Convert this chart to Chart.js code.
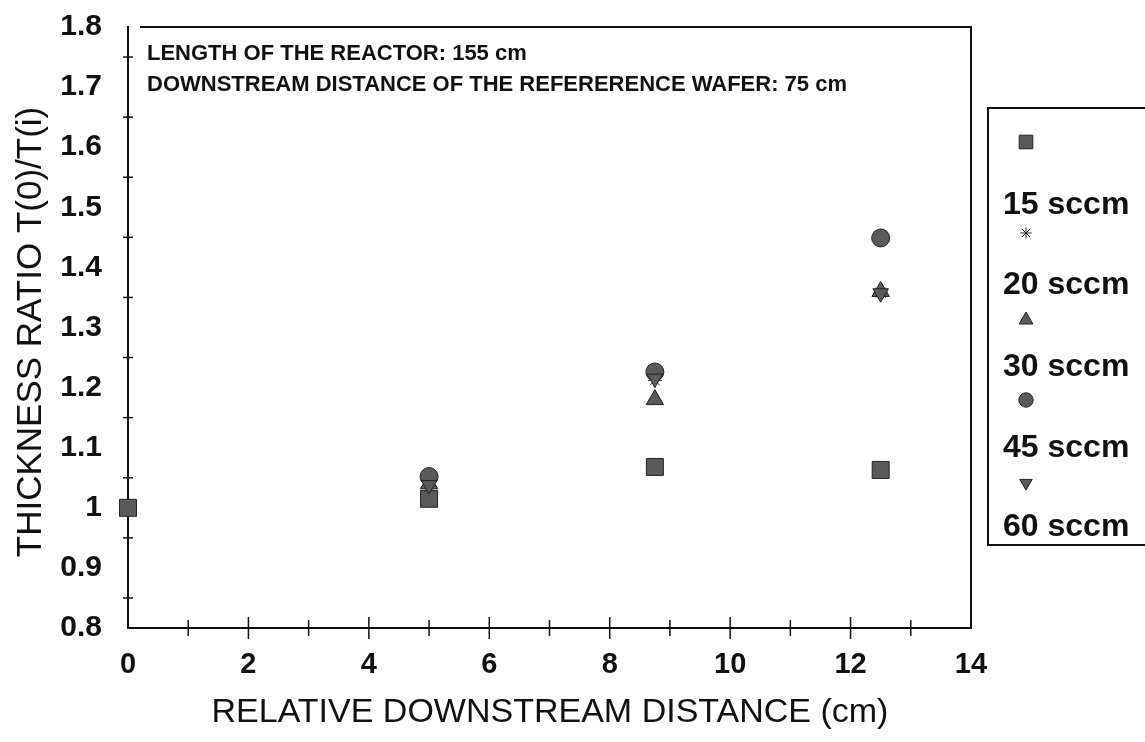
<!DOCTYPE html>
<html>
<head>
<meta charset="utf-8">
<script src="https://cdn.jsdelivr.net/npm/chart.js@4/dist/chart.umd.min.js"></script>
<style>
  html, body { margin: 0; padding: 0; background: #fff; }
  #wrap { width: 1145px; height: 742px; }
</style>
</head>
<body>
<div id="wrap"><canvas id="chart" width="1145" height="742"></canvas></div>
<script>
const distances = [0, 5, 8.75, 12.5];
const sccm15 = [1.0, 1.015, 1.068, 1.063];
const sccm20 = [null, 1.035, 1.212, 1.358];
const sccm30 = [null, 1.04, 1.18, 1.36];
const sccm45 = [null, 1.052, 1.226, 1.449];
const sccm60 = [null, 1.038, 1.215, 1.357];
const seriesLabels = ["15 sccm", "20 sccm", "30 sccm", "45 sccm", "60 sccm"];
const xTickLabels = ["0", "2", "4", "6", "8", "10", "12", "14"];
const yTickLabels = ["0.8", "0.9", "1", "1.1", "1.2", "1.3", "1.4", "1.5", "1.6", "1.7", "1.8"];
const notes = [
  "LENGTH OF THE REACTOR: 155 cm",
  "DOWNSTREAM DISTANCE OF THE REFERERENCE WAFER: 75 cm",
];

const FONT = "'Liberation Sans', Arial, sans-serif";
const fill = "#5a5a5a";
const edge = "#222";

const styles = [
  { pointStyle: "rect", radius: 12, rotation: 0 },
  { pointStyle: "star", radius: 7, rotation: 0 },
  { pointStyle: "triangle", radius: 10, rotation: 0 },
  { pointStyle: "circle", radius: 9, rotation: 0 },
  { pointStyle: "triangle", radius: 9, rotation: 180 },
];
// legend layout: marker and text rows
const legendMarkerY = [142, 233, 320, 400, 483];
const legendTextY = [205, 285, 367, 448, 527];

const seriesValues = [sccm15, sccm20, sccm30, sccm45, sccm60];

const datasets = seriesValues.map((vals, i) => ({
  label: seriesLabels[i],
  data: vals.map((v, j) => ({ x: distances[j], y: v })).filter((p) => p.y !== null),
  showLine: false,
  clip: false,
  pointStyle: styles[i].pointStyle,
  pointRadius: styles[i].radius,
  pointRotation: styles[i].rotation,
  pointBackgroundColor: fill,
  pointBorderColor: edge,
  pointBorderWidth: 1,
}));

const decorations = {
  id: "decorations",
  afterDraw(chart) {
    const ctx = chart.ctx;
    const area = chart.chartArea;
    const xs = chart.scales.x;
    const ys = chart.scales.y;
    ctx.save();
    ctx.strokeStyle = "#111";
    ctx.lineWidth = 2;

    // box top and right
    ctx.beginPath();
    ctx.moveTo(area.left + 12, area.top);
    ctx.lineTo(area.right, area.top);
    ctx.lineTo(area.right, area.bottom);
    ctx.stroke();

    // x axis crosses
    ctx.lineWidth = 1.5;
    for (let v = 1; v < 14; v++) {
      const px = xs.getPixelForValue(v);
      const len = v % 2 === 0 ? 11 : 8;
      ctx.beginPath();
      ctx.moveTo(px, area.bottom - len);
      ctx.lineTo(px, area.bottom + len);
      ctx.stroke();
    }
    // y axis crosses at half steps
    for (let v = 0.85; v < 1.8; v += 0.1) {
      const py = ys.getPixelForValue(v);
      ctx.beginPath();
      ctx.moveTo(area.left - 5, py);
      ctx.lineTo(area.left + 5, py);
      ctx.stroke();
    }

    // notes
    ctx.fillStyle = "#111";
    ctx.font = "bold 22px " + FONT;
    ctx.textAlign = "left";
    ctx.textBaseline = "middle";
    notes.forEach((t, i) => ctx.fillText(t, 147, 54 + i * 31));

    // axis titles
    ctx.font = "34px " + FONT;
    ctx.textAlign = "center";
    ctx.fillText("RELATIVE DOWNSTREAM DISTANCE (cm)", 550, 713);
    ctx.save();
    ctx.translate(31, 332);
    ctx.rotate(-Math.PI / 2);
    ctx.font = "35px " + FONT;
    ctx.fillText("THICKNESS RATIO T(0)/T(i)", 0, 0);
    ctx.restore();

    // legend
    ctx.lineWidth = 2;
    ctx.strokeRect(988, 108, 200, 437);
    ctx.font = "bold 32px " + FONT;
    ctx.textAlign = "left";
    seriesLabels.forEach((label, i) => {
      ctx.fillStyle = fill;
      ctx.strokeStyle = edge;
      ctx.lineWidth = 1;
      Chart.helpers.drawPoint(ctx, {
        pointStyle: styles[i].pointStyle,
        radius: styles[i].radius * 0.8,
        rotation: styles[i].rotation,
        borderWidth: 1,
      }, 1026, legendMarkerY[i]);
      ctx.fillStyle = "#111";
      ctx.fillText(label, 1003, legendTextY[i]);
    });
    ctx.restore();
  },
};

new Chart(document.getElementById("chart"), {
  type: "scatter",
  data: { datasets: datasets.slice().reverse() },
  options: {
    responsive: false,
    animation: false,
    layout: { padding: { left: 0, top: 27, right: 174, bottom: 0 } },
    plugins: { legend: { display: false }, tooltip: { enabled: false } },
    scales: {
      x: {
        type: "linear",
        min: 0,
        max: 14,
        grid: { display: false, drawTicks: false },
        border: { display: true, color: "#111", width: 2 },
        ticks: {
          stepSize: 2,
          padding: 20,
          color: "#111",
          font: { family: FONT, size: 29, weight: "bold" },
          callback: (v, i) => xTickLabels[i],
        },
        afterFit: (s) => {
          s.height = 114;
          s.paddingLeft = 0;
          s.paddingRight = 0;
        },
      },
      y: {
        type: "linear",
        min: 0.8,
        max: 1.8,
        grid: { display: false, drawTicks: false },
        border: { display: true, color: "#111", width: 2 },
        ticks: {
          stepSize: 0.1,
          padding: 26,
          color: "#111",
          font: { family: FONT, size: 30, weight: "bold" },
          callback: (v, i) => yTickLabels[i],
        },
        afterFit: (s) => {
          s.width = 128;
          s.paddingTop = 0;
          s.paddingBottom = 0;
        },
      },
    },
  },
  plugins: [decorations],
});
</script>
</body>
</html>
